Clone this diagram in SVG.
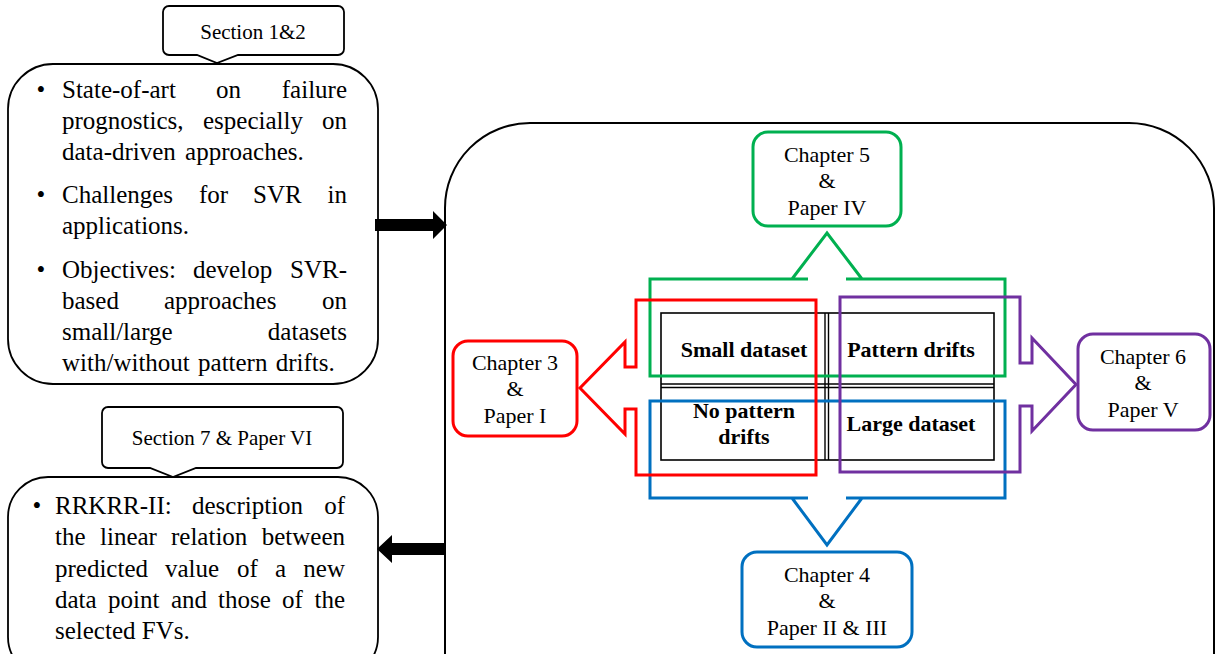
<svg xmlns="http://www.w3.org/2000/svg" width="1215" height="654" viewBox="0 0 1215 654">
<defs>
<style>
.t{font-family:"Liberation Serif","Times New Roman",serif;font-size:25px;fill:#000}
.c{font-family:"Liberation Serif","Times New Roman",serif;font-size:22px;fill:#000;text-anchor:middle}
.s{font-family:"Liberation Serif","Times New Roman",serif;font-size:21px;fill:#000;text-anchor:middle}
.b{font-family:"Liberation Serif","Times New Roman",serif;font-size:22px;font-weight:bold;fill:#000;text-anchor:middle}
.e{text-anchor:end}
.bul{font-family:"Liberation Serif","Times New Roman",serif;font-size:25px;fill:#000;text-anchor:middle}
.box{fill:#fff;stroke:#000;stroke-width:1.8}
.cbox{fill:#fff;stroke-width:3}
.cl{fill:none;stroke-width:3;stroke-linejoin:miter}
.red{stroke:#FF0000}.green{stroke:#00B050}.blue{stroke:#0070C0}.purple{stroke:#7030A0}
.arrow{fill:#000;stroke:none}
.tl{stroke:#000;stroke-width:1.4;fill:none}
</style>
</defs>

<g id="main-box">
<rect x="445" y="123" width="769" height="620" rx="85" ry="85" fill="#fff" stroke="#000" stroke-width="2"/>
</g>

<g id="intro-box">
<rect class="box" x="8" y="64" width="370" height="320" rx="45" ry="45"/>
<text class="bul" x="41" y="98">•</text>
<text class="t" x="62" y="98">State-of-art</text><text class="t" x="216" y="98">on</text><text class="t e" x="347" y="98">failure</text>
<text class="t" x="62" y="129">prognostics,</text><text class="t" x="203" y="129">especially</text><text class="t e" x="347" y="129">on</text>
<text class="t" x="62" y="160" word-spacing="3">data-driven approaches.</text>
<text class="bul" x="41" y="203">•</text>
<text class="t" x="62" y="203">Challenges</text><text class="t" x="199" y="203">for</text><text class="t" x="253" y="203">SVR</text><text class="t e" x="347" y="203">in</text>
<text class="t" x="62" y="234">applications.</text>
<text class="bul" x="41" y="278">•</text>
<text class="t" x="62" y="278">Objectives:</text><text class="t" x="193" y="278">develop</text><text class="t e" x="347" y="278">SVR-</text>
<text class="t" x="62" y="309">based</text><text class="t" x="164" y="309">approaches</text><text class="t e" x="347" y="309">on</text>
<text class="t" x="62" y="340">small/large</text><text class="t e" x="347" y="340">datasets</text>
<text class="t" x="62" y="371" word-spacing="2">with/without pattern drifts.</text>
</g>

<g id="callout-section12">
<path class="box" d="M169,6 H338 A6,6 0 0 1 344,12 V49 A6,6 0 0 1 338,55 H238 L217,63 L197,55 H169 A6,6 0 0 1 163,49 V12 A6,6 0 0 1 169,6 Z"/>
<text class="s" x="253" y="39">Section 1&amp;2</text>
</g>

<g id="future-box">
<rect class="box" x="8" y="477" width="370" height="200" rx="40" ry="40"/>
<text class="bul" x="37" y="514">•</text>
<text class="t" x="55" y="514">RRKRR-II:</text><text class="t" x="192" y="514">description</text><text class="t e" x="345" y="514">of</text>
<text class="t" x="55" y="545">the</text><text class="t" x="100" y="545">linear</text><text class="t" x="171" y="545">relation</text><text class="t e" x="345" y="545">between</text>
<text class="t" x="55" y="577">predicted</text><text class="t" x="165" y="577">value</text><text class="t" x="237" y="577">of</text><text class="t" x="275" y="577">a</text><text class="t e" x="345" y="577">new</text>
<text class="t" x="55" y="608">data</text><text class="t" x="108" y="608">point</text><text class="t" x="171" y="608">and</text><text class="t" x="218" y="608">those</text><text class="t" x="282" y="608">of</text><text class="t e" x="345" y="608">the</text>
<text class="t" x="55" y="639">selected FVs.</text>
</g>

<g id="callout-section7">
<path class="box" d="M108,407 H337 A6,6 0 0 1 343,413 V462 A6,6 0 0 1 337,468 H196 L173,477 L150,468 H108 A6,6 0 0 1 102,462 V413 A6,6 0 0 1 108,407 Z"/>
<text class="s" x="222" y="445">Section 7 &amp; Paper VI</text>
</g>

<g id="table">
<rect x="661" y="313" width="333" height="147" fill="#fff" stroke="#000" stroke-width="1.6"/>
<line class="tl" x1="661" y1="384" x2="994" y2="384"/>
<line class="tl" x1="661" y1="387.5" x2="994" y2="387.5"/>
<line class="tl" x1="825" y1="313" x2="825" y2="460"/>
<line class="tl" x1="828.5" y1="313" x2="828.5" y2="460"/>
<text class="b" x="744" y="357">Small dataset</text>
<text class="b" x="911" y="357">Pattern drifts</text>
<text class="b" x="744" y="418">No pattern</text>
<text class="b" x="744" y="444">drifts</text>
<text class="b" x="911" y="431">Large dataset</text>
</g>

<g id="connectors">
<polygon class="arrow" points="375,219 433,219 433,211 447,225 433,239 433,231 375,231"/>
<polygon class="arrow" points="445,543 392,543 392,535 377,549 392,563 392,555 445,555"/>
<path class="cl green" d="M808,279 H650 V376 H1005 V279 H846 M792,279 L827,233 L862,279"/>
<path class="cl blue" d="M808,498 H650 V401 H1005 V498 H846 M792,498 L827,545 L862,498"/>
<path class="cl red" d="M636,367 H625 V342 L580,388 L625,434 V409 H636 V475 H816 V300 H636 Z"/>
<path class="cl purple" d="M1020,363 H1032 V338 L1076,384.5 L1032,431 V406 H1020 V472 H840 V297 H1020 Z"/>
</g>

<g id="chapter5">
<rect class="cbox green" x="753" y="132" width="148" height="94" rx="15" ry="15"/>
<text class="c" x="827" y="162">Chapter 5</text>
<text class="c" x="827" y="188">&amp;</text>
<text class="c" x="827" y="215">Paper IV</text>
</g>

<g id="chapter3">
<rect class="cbox red" x="453" y="341" width="124" height="95" rx="15" ry="15"/>
<text class="c" x="515" y="370">Chapter 3</text>
<text class="c" x="515" y="396">&amp;</text>
<text class="c" x="515" y="423">Paper I</text>
</g>

<g id="chapter6">
<rect class="cbox purple" x="1078" y="334" width="132" height="96" rx="15" ry="15"/>
<text class="c" x="1143" y="364">Chapter 6</text>
<text class="c" x="1143" y="390">&amp;</text>
<text class="c" x="1143" y="417">Paper V</text>
</g>

<g id="chapter4">
<rect class="cbox blue" x="742" y="552" width="170" height="95" rx="15" ry="15"/>
<text class="c" x="827" y="582">Chapter 4</text>
<text class="c" x="827" y="608">&amp;</text>
<text class="c" x="827" y="635">Paper II &amp; III</text>
</g>
</svg>
